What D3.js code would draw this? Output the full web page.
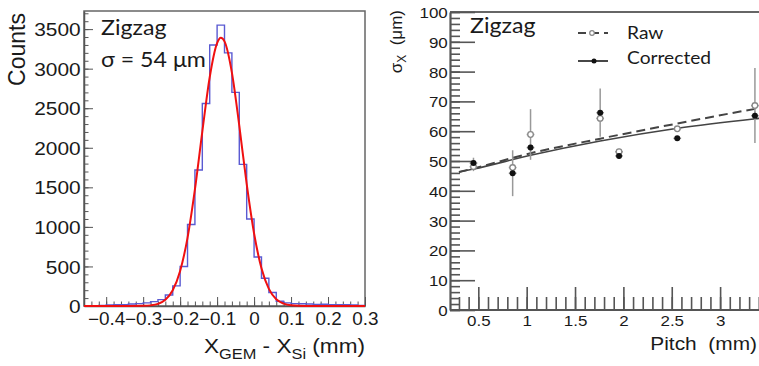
<!DOCTYPE html>
<html><head><meta charset="utf-8">
<script src="https://cdn.jsdelivr.net/npm/d3@7"></script>
<style>body{margin:0;background:#fff}svg{display:block}</style>
</head><body><svg id="c" width="759" height="366"></svg>
<script>
// ---------- Left panel data: histogram of X_GEM - X_Si ----------
const binLeftEdges = [-0.46,-0.44,-0.42,-0.40,-0.38,-0.36,-0.34,-0.32,-0.30,-0.28,-0.26,-0.24,-0.22,-0.20,-0.18,-0.16,-0.14,-0.12,-0.10,-0.08,-0.06,-0.04,-0.02,0.00,0.02,0.04,0.06,0.08,0.10,0.12,0.14,0.16,0.18,0.20,0.22,0.24,0.26,0.28];
const binWidth = 0.02;
const counts = [3,5,8,12,15,18,25,30,40,55,80,140,255,500,1030,1720,2560,3300,3550,3200,2700,1790,1100,620,350,170,60,40,30,28,25,20,22,18,15,15,12,8];
const fitX = [-0.46,-0.34,-0.30,-0.28,-0.26,-0.24,-0.22,-0.20,-0.18,-0.16,-0.14,-0.12,-0.10,-0.09,-0.08,-0.06,-0.04,-0.02,0.00,0.02,0.04,0.06,0.08,0.10,0.14,0.30];
const fitY = [0,0,2,8,27,78,199,443,862,1474,2205,2892,3323,3390,3345,2950,2279,1543,916,477,217,86,30,9,0,0];
const countTicks = [0,500,1000,1500,2000,2500,3000,3500];
const diffTicks = [-0.4,-0.3,-0.2,-0.1,0,0.1,0.2,0.3];

// ---------- Right panel data: sigma_X vs pitch ----------
const pitch     = [0.45, 0.855, 1.04, 1.76, 1.955, 2.557, 3.36];
const rawSigma  = [48.1, 47.8, 58.9, 64.3, 53.1, 60.8, 68.6];
const rawErr    = [1.5, 1.0, 8.5, 1.0, 1.0, 0.8, 12.6];
const corrSigma = [49.3, 45.9, 54.5, 66.2, 51.7, 57.6, 65.2];
const corrErr   = [1.8, 7.7, 1.2, 8.1, 1.0, 0.8, 1.5];
const pitchErr  = [0.04, 0.04, 0.04, 0.04, 0.04, 0.04, 0.04];
const fitPitch  = [0.3, 0.45, 1.04, 1.76, 2.56, 3.4, 3.6];
const rawFit    = [46.3, 47.5, 52.6, 57.5, 62.6, 67.7, 68.8];
const corrFit   = [46.3, 47.3, 51.9, 56.7, 61.0, 64.3, 65.0];
const sigmaTicks = [0,10,20,30,40,50,60,70,80,90,100];
const pitchTicks = [0.5,1,1.5,2,2.5,3];

const svg = d3.select("#c");
const SX = 1.13;
const SANS = "'Liberation Sans', Arial, sans-serif";
const HUM = "Lato, 'Open Sans', sans-serif";
function htext(x, y, size, fam, anchor) {
  return svg.append("text").attr("transform", `translate(${x},${y}) scale(${SX},1)`)
    .attr("font-size", size).attr("font-family", fam).attr("text-anchor", anchor).attr("fill", "#1a1a1a");
}
const range = (a, b, s) => d3.range(Math.round(a / s), Math.round(b / s) + 1).map(i => +(i * s).toFixed(4));

// ================= LEFT PANEL =================
const xL = d3.scaleLinear().domain([-0.46, 0.30]).range([84, 365]);
const yL = d3.scaleLinear().domain([0, 3729]).range([306, 11]);

svg.append("rect").attr("x", 84).attr("y", 11).attr("width", 281).attr("height", 295)
  .attr("fill", "none").attr("stroke", "#666").attr("stroke-width", 1.5);

const gyLm = svg.append("g").attr("transform", "translate(84,0)")
  .call(d3.axisLeft(yL).tickValues(range(0, 3700, 100)).tickSize(-4.5).tickFormat("").tickSizeOuter(0));
const gxLm = svg.append("g").attr("transform", "translate(0,306)")
  .call(d3.axisBottom(xL).tickValues(range(-0.46, 0.3, 0.02)).tickSize(-4.5).tickFormat("").tickSizeOuter(0));
[gyLm, gxLm].forEach(g => { g.select(".domain").remove(); g.selectAll("line").attr("stroke", "#555"); });

const gyL = svg.append("g").attr("transform", "translate(84,0)")
  .call(d3.axisLeft(yL).tickValues(countTicks).tickSize(-9).tickPadding(3).tickFormat(d3.format("d")).tickSizeOuter(0));
const gxL = svg.append("g").attr("transform", "translate(0,306)")
  .call(d3.axisBottom(xL).tickValues(diffTicks).tickSize(-9).tickPadding(7)
    .tickFormat(d => d === 0 ? "0" : d3.format(".1f")(d)).tickSizeOuter(0));
[gyL, gxL].forEach(g => {
  g.select(".domain").attr("stroke", "#555").attr("stroke-width", 1.5);
  g.selectAll("line").attr("stroke", "#555");
  g.selectAll("text").attr("font-family", SANS).attr("fill", "#1a1a1a");
});
gyL.selectAll("text").attr("font-size", 18.5).attr("dy", "0.36em").attr("transform", `scale(${SX},1)`);
gxL.selectAll("text").attr("font-size", 17.5).attr("transform", "scale(1.08,1)");

const histPts = binLeftEdges.map((e, i) => [e, counts[i]]);
histPts.push([binLeftEdges[binLeftEdges.length - 1] + binWidth, counts[counts.length - 1]]);
svg.append("path").datum(histPts)
  .attr("d", d3.line().x(d => xL(d[0])).y(d => yL(d[1])).curve(d3.curveStepAfter))
  .attr("fill", "none").attr("stroke", "#5a5ad2").attr("stroke-width", 1.4);

svg.append("path").datum(fitX.map((x, i) => [x, fitY[i]]))
  .attr("d", d3.line().x(d => xL(d[0])).y(d => yL(d[1])).curve(d3.curveMonotoneX))
  .attr("fill", "none").attr("stroke", "#f01010").attr("stroke-width", 2);

htext(101, 35, 20.5, HUM, "start").text("Zigzag");
htext(101, 67, 20.5, HUM, "start").text("σ = 54 μm");
svg.append("text").attr("transform", "translate(25,13) rotate(-90)")
  .attr("font-size", 23).attr("font-family", SANS).attr("text-anchor", "end").attr("fill", "#1a1a1a").text("Counts");
const tL = htext(365, 353, 20, SANS, "end");
tL.append("tspan").text("X");
tL.append("tspan").attr("font-size", 14.5).attr("dy", 6).text("GEM");
tL.append("tspan").attr("dy", -6).text(" - X");
tL.append("tspan").attr("font-size", 14.5).attr("dy", 6).text("Si");
tL.append("tspan").attr("dy", -6).text(" (mm)");

// ================= RIGHT PANEL =================
const xR = d3.scaleLinear().domain([0.2, 3.55]).range([449.3, 773.3]);
const yR = d3.scaleLinear().domain([0, 100]).range([310, 12]);
svg.append("clipPath").attr("id", "rc").append("rect")
  .attr("x", 450).attr("y", 0).attr("width", 309).attr("height", 310);

svg.append("line").attr("x1", 450).attr("x2", 759).attr("y1", 12).attr("y2", 12)
  .attr("stroke", "#666").attr("stroke-width", 2);

const gyRm = svg.append("g").attr("transform", "translate(450,0)")
  .call(d3.axisLeft(yR).tickValues(range(0, 100, 2)).tickSize(-10).tickFormat("").tickSizeOuter(0));
const gxRm = svg.append("g").attr("transform", "translate(0,310)")
  .call(d3.axisBottom(xR).tickValues(range(0.3, 3.5, 0.1)).tickSize(-13).tickFormat("").tickSizeOuter(0));
[gyRm, gxRm].forEach(g => { g.select(".domain").remove(); g.selectAll("line").attr("stroke", "#555").attr("stroke-width", 1.6); });

const gyR = svg.append("g").attr("transform", "translate(450,0)")
  .call(d3.axisLeft(yR).tickValues(sigmaTicks).tickSize(-25).tickPadding(2).tickFormat(d3.format("d")).tickSizeOuter(0));
const gxR = svg.append("g").attr("transform", "translate(0,310)")
  .call(d3.axisBottom(xR).tickValues(pitchTicks).tickSize(-23).tickPadding(5).tickFormat(d3.format("~g")).tickSizeOuter(0));
[gyR, gxR].forEach(g => {
  g.select(".domain").attr("stroke", "#555").attr("stroke-width", 2.2);
  g.selectAll("line").attr("stroke", "#555").attr("stroke-width", 1.6);
  g.selectAll("text").attr("font-size", 15).attr("font-family", SANS).attr("fill", "#1a1a1a")
    .attr("transform", `scale(${SX},1)`);
});
gyR.selectAll("text").attr("dy", "0.36em");
gxR.select(".domain").attr("d", "M450,0H759");
svg.append("g").attr("transform", "translate(0,310)")
  .call(d3.axisBottom(xR).tickValues([3.5]).tickSize(-23).tickFormat("").tickSizeOuter(0))
  .call(g => { g.select(".domain").remove(); g.selectAll("line").attr("stroke", "#555").attr("stroke-width", 1.6); });

const plotR = svg.append("g").attr("clip-path", "url(#rc)");

const lineR = d3.line().x(d => xR(d[0])).y(d => yR(d[1])).curve(d3.curveMonotoneX);
plotR.append("path").datum(fitPitch.map((p, i) => [p, rawFit[i]])).attr("d", lineR)
  .attr("fill", "none").attr("stroke", "#444").attr("stroke-width", 2).attr("stroke-dasharray", "9,5");
plotR.append("path").datum(fitPitch.map((p, i) => [p, corrFit[i]])).attr("d", lineR)
  .attr("fill", "none").attr("stroke", "#444").attr("stroke-width", 1.6);

function errBars(vals, errs) {
  pitch.forEach((p, i) => {
    plotR.append("line").attr("x1", xR(p)).attr("x2", xR(p)).attr("y1", yR(vals[i] - errs[i])).attr("y2", yR(vals[i] + errs[i]))
      .attr("stroke", "#999").attr("stroke-width", 1.5);
    plotR.append("line").attr("x1", xR(p - pitchErr[i])).attr("x2", xR(p + pitchErr[i])).attr("y1", yR(vals[i])).attr("y2", yR(vals[i]))
      .attr("stroke", "#999").attr("stroke-width", 1.5);
  });
}
errBars(rawSigma, rawErr);
errBars(corrSigma, corrErr);
plotR.selectAll(".rawpt").data(pitch).join("circle").attr("class", "rawpt")
  .attr("cx", d => xR(d)).attr("cy", (d, i) => yR(rawSigma[i])).attr("r", 2.8)
  .attr("fill", "#fff").attr("stroke", "#888").attr("stroke-width", 1.3);
plotR.selectAll(".corrpt").data(pitch).join("circle").attr("class", "corrpt")
  .attr("cx", d => xR(d)).attr("cy", (d, i) => yR(corrSigma[i])).attr("r", 3)
  .attr("fill", "#111");

svg.append("line").attr("x1", 578).attr("x2", 608).attr("y1", 33).attr("y2", 33)
  .attr("stroke", "#444").attr("stroke-width", 2).attr("stroke-dasharray", "8,5");
svg.append("circle").attr("cx", 592).attr("cy", 33).attr("r", 2.3).attr("fill", "#fff").attr("stroke", "#888").attr("stroke-width", 1.2);
svg.append("line").attr("x1", 578).attr("x2", 608).attr("y1", 61).attr("y2", 61)
  .attr("stroke", "#333").attr("stroke-width", 1.8);
svg.append("circle").attr("cx", 594).attr("cy", 61).attr("r", 2.5).attr("fill", "#111");
htext(627, 39, 17, HUM, "start").text("Raw");
htext(627, 64, 17, HUM, "start").text("Corrected");
htext(470, 33, 20.5, HUM, "start").text("Zigzag");

htext(757, 350, 18.5, SANS, "end").text("Pitch\u00A0\u00A0(mm)");
const tR = svg.append("text").attr("transform", "translate(402,10) rotate(-90)")
  .attr("font-size", 17).attr("font-family", SANS).attr("text-anchor", "end").attr("fill", "#1a1a1a");
tR.append("tspan").text("σ");
tR.append("tspan").attr("font-size", 12).attr("dy", 4).text("X");
tR.append("tspan").attr("dy", -4).text("\u00A0\u00A0(μm)");
</script></body></html>
